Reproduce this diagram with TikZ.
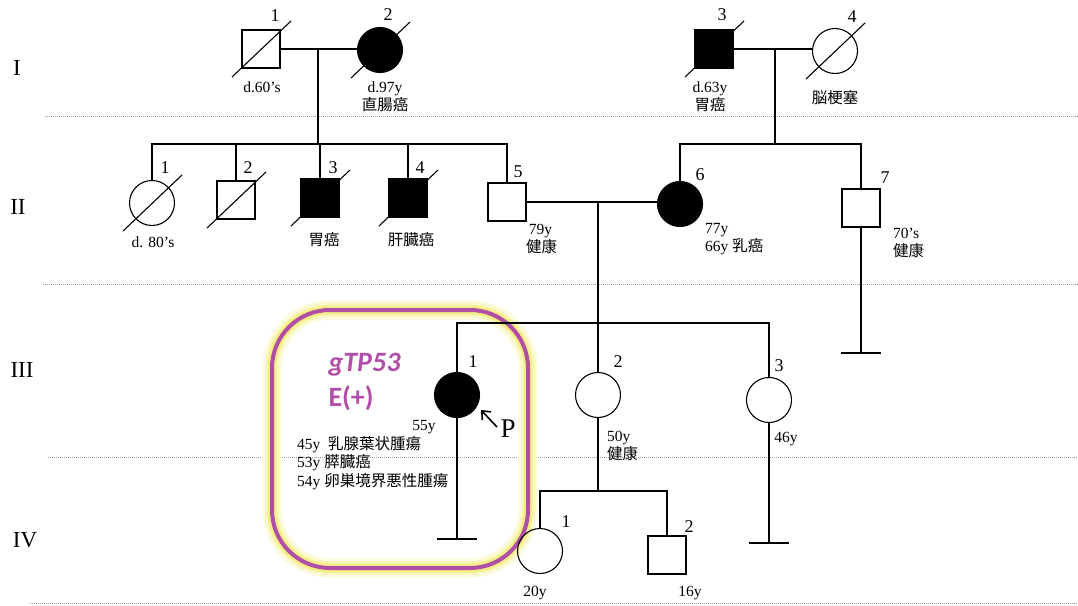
\documentclass[tikz,border=0pt]{standalone}
\usepackage{fontspec}
\setmainfont{Liberation Serif}
\newfontfamily\jpfont{Noto Sans CJK JP}
\newfontfamily\calfont{Carlito}
\usetikzlibrary{arrows.meta}
\definecolor{pedMagenta}{HTML}{B14FA6}
\definecolor{pedGlow}{HTML}{F2EC6E}
\definecolor{pedRule}{HTML}{9A9A9A}
\tikzset{
  male/.style={rectangle,draw,line width=1.1pt,minimum size=38pt,inner sep=0pt},
  female/.style={circle,draw,line width=1.1pt,minimum size=45pt,inner sep=0pt},
  affected/.style={fill=black},
  slash/.style={line width=1.1pt},
  link/.style={line width=1.1pt},
  idnum/.style={font=\fontsize{18}{18}\selectfont},
  note/.style={font=\fontsize{15.5}{18}\selectfont,inner sep=0pt},
  gen/.style={font=\fontsize{23}{23}\selectfont},
  genrule/.style={pedRule,line width=0.6pt,dash pattern=on 1pt off 1pt},
  parrow/.style={-{Straight Barb[length=7pt,width=12pt]},line width=1.6pt}
}
\newcommand{\deadmark}[1]{\draw[slash] ([shift={(-29,28)}]#1.center) -- ([shift={(30,-28)}]#1.center);}
\newcommand{\noissue}[1]{\draw[link] ([xshift=-20pt]#1) -- ([xshift=20pt]#1);}

\begin{document}
\begin{tikzpicture}[x=1pt,y=-1pt]
  \useasboundingbox (0,0) rectangle (1078,605);
  % generation rules
  \draw[genrule] (45,116) -- (1078,116);
  \draw[genrule] (43,284) -- (1078,284);
  \draw[genrule] (48,457) -- (1078,457);
  \draw[genrule] (30,603) -- (1078,603);
  \node[gen] (genI) at (17,68) {I};
  \node[gen] (genII) at (18,207) {II};
  \node[gen] (genIII) at (22,370) {III};
  \node[gen] (genIV) at (25,540) {IV};

  % highlight around proband
  \draw[pedGlow!20,line width=20pt,rounded corners=58pt] (272,310) rectangle (528,568);
  \draw[pedGlow!45,line width=14pt,rounded corners=58pt] (272,310) rectangle (528,568);
  \draw[pedGlow!85,line width=9pt,rounded corners=58pt] (272,310) rectangle (528,568);
  \draw[pedMagenta,line width=4pt,rounded corners=58pt] (272,310) rectangle (528,568);
  \node[anchor=west,text=pedMagenta,font=\calfont\bfseries\itshape\fontsize{28}{28}\selectfont] (gene) at (325,365) {gTP53};
  \node[anchor=west,text=pedMagenta,font=\calfont\bfseries\fontsize{28}{28}\selectfont] (genres) at (325,398) {E(+)};

  % generation I
  \node[male] (i1) at (261,49) {};
  \node[female,affected] (i2) at (380,50) {};
  \node[male,affected] (i3) at (714,49) {};
  \node[female] (i4) at (835,51) {};
  \deadmark{i1}
  \deadmark{i2}
  \deadmark{i3}
  \deadmark{i4}
  \node[idnum] at (275,16) {1};
  \node[idnum] at (388,15) {2};
  \node[idnum] at (722,15) {3};
  \node[idnum] at (852,17) {4};
  \node[note] (i1n) at (262,87) {d.60’s};
  \node[note,align=center] (i2n) at (385,97) {d.97y\\{\jpfont 直腸癌}};
  \node[note,align=center] (i3n) at (710,97) {d.63y\\{\jpfont 胃癌}};
  \node[note] (i4n) at (835,98) {\jpfont 脳梗塞};
  \draw[link] (i1.east) -- (i1.east -| i2.west);
  \draw[link] (i3.east) -- (i3.east -| i4.west);
  \coordinate (m1) at (318,49);
  \coordinate (m2) at (775,49);

  % generation II
  \node[female] (ii1) at (152,203) {};
  \node[male] (ii2) at (236,200) {};
  \node[male,affected] (ii3) at (320,198) {};
  \node[male,affected] (ii4) at (408,198) {};
  \node[male] (ii5) at (507,202) {};
  \node[female,affected] (ii6) at (680,204) {};
  \node[male] (ii7) at (861,208) {};
  \deadmark{ii1}
  \deadmark{ii2}
  \deadmark{ii3}
  \deadmark{ii4}
  \node[idnum] at (165,168) {1};
  \node[idnum] at (248,168) {2};
  \node[idnum] at (333,168) {3};
  \node[idnum] at (420,168) {4};
  \node[idnum] at (518,172) {5};
  \node[idnum] at (700,175) {6};
  \node[idnum] at (885,178) {7};
  \node[note] (ii1n) at (153,242) {d. 80’s};
  \node[note] (ii3n) at (324,240) {\jpfont 胃癌};
  \node[note] (ii4n) at (411,240) {\jpfont 肝臓癌};
  \node[note,align=left,anchor=west] (ii5n) at (526,239) {\,79y\\{\jpfont 健康}};
  \node[note,align=left,anchor=west] (ii6n) at (705,239) {77y\\66y {\jpfont 乳癌}};
  \node[note,align=left,anchor=west] (ii7n) at (893,243) {70’s\\{\jpfont 健康}};
  \coordinate (sib2) at (318,144);
  \coordinate (sib2r) at (775,144);
  \draw[link] (m1) -- (sib2);
  \draw[link] (ii1) |- (sib2) -| (ii5);
  \draw[link] (ii2) -- (ii2 |- sib2);
  \draw[link] (ii3) -- (ii3 |- sib2);
  \draw[link] (ii4) -- (ii4 |- sib2);
  \draw[link] (m2) -- (sib2r);
  \draw[link] (ii6) |- (sib2r) -| (ii7);
  \draw[link] (ii5.east) -- (ii5.east -| ii6.west);
  \coordinate (ii7e) at (861,353);
  \draw[link] (ii7) -- (ii7e);
  \noissue{ii7e}
  \coordinate (m3) at (598,202);

  % generation III
  \node[female,affected] (iii1) at (457,395) {};
  \node[female] (iii2) at (598,395) {};
  \node[female] (iii3) at (769,400) {};
  \node[idnum] at (473,362) {1};
  \node[idnum] at (618,362) {2};
  \node[idnum] at (779,366) {3};
  \node[note] (iii1n) at (424,427) {55y};
  \node[note,align=left,anchor=north west,font=\fontsize{15.5}{18.5}\selectfont] (iii1h) at (297,436)
    {45y\ \ {\jpfont 乳腺葉状腫瘍}\\53y\ {\jpfont 膵臓癌}\\54y\ {\jpfont 卵巣境界悪性腫瘍}};
  \node[note,align=left,anchor=west] (iii2n) at (607,446) {50y\\{\jpfont 健康}};
  \node[note] (iii3n) at (786,439) {46y};
  \coordinate (sib3) at (598,323);
  \draw[link] (m3) -- (sib3);
  \draw[link] (iii1) |- (sib3) -| (iii3);
  \draw[link] (iii2) -- (iii2 |- sib3);
  \coordinate (iii1e) at (457,539);
  \draw[link] (iii1) -- (iii1e);
  \noissue{iii1e}
  \coordinate (iii3e) at (769,543);
  \draw[link] (iii3) -- (iii3e);
  \noissue{iii3e}
  % proband arrow
  \coordinate (ptail) at (497,427);
  \coordinate (phead) at (481,410);
  \draw[parrow] (ptail) -- (phead);
  \node[font=\fontsize{27}{27}\selectfont] (pmark) at (508,429) {P};

  % generation IV
  \node[female] (iv1) at (540,551) {};
  \node[male] (iv2) at (667,555) {};
  \node[idnum] at (566,522) {1};
  \node[idnum] at (689,527) {2};
  \node[note] (iv1n) at (535,593) {20y};
  \node[note] (iv2n) at (690,593) {16y};
  \coordinate (sib4) at (598,491);
  \draw[link] (iii2) -- (sib4);
  \draw[link] (iv1) |- (sib4) -| (iv2);
\end{tikzpicture}
\end{document}
